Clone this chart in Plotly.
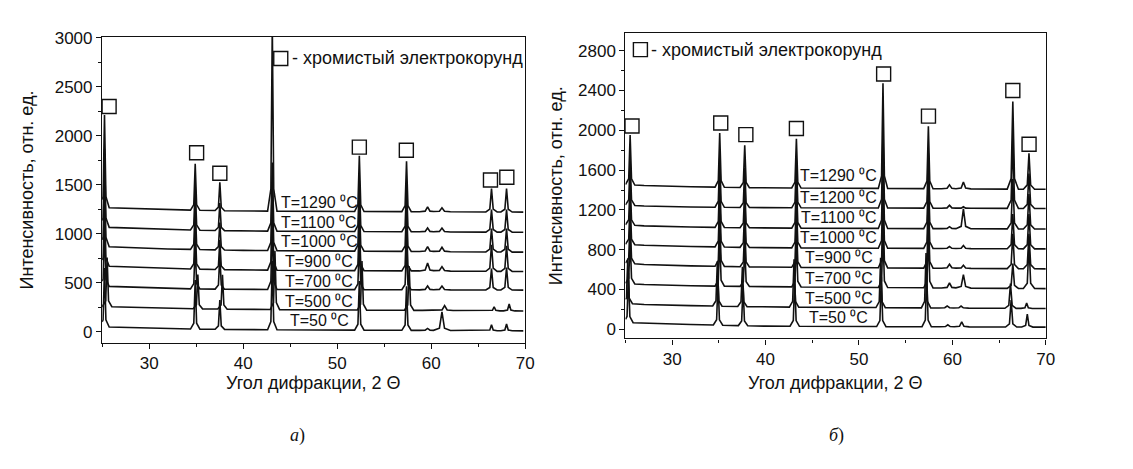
import numpy as np
import plotly.graph_objects as go

# ---------------- data: panel a ----------------
a_temps = ["50", "500", "700", "900", "1000", "1100", "1290"]
a_knots = [25.0, 27.0, 32.0, 40.0, 69.8]
a_baseline = [
    [50, 45, 30, 22, 9],
    [258, 252, 238, 228, 212],
    [465, 458, 440, 432, 425],
    [672, 664, 645, 630, 615],
    [870, 862, 845, 830, 812],
    [1068, 1060, 1042, 1028, 1015],
    [1268, 1262, 1245, 1232, 1221],
]
a_peaks = [25.25, 34.9, 37.52, 43.1, 52.36, 57.38, 59.62, 61.15, 66.42, 68.02]
a_peak_width = [1, 1, 1, 1, 1, 1, 1.7, 1.8, 1.2, 1.2]
a_shift = [0, 0.28, 0, 0, 0, 0, 0]
a_heights = [
    [600, 500, 300, 700, 500, 450, 20, 190, 60, 70],
    [500, 350, 350, 600, 500, 450, 0, 50, 40, 70],
    [600, 450, 350, 700, 500, 450, 40, 40, 220, 230],
    [700, 450, 300, 700, 520, 470, 80, 45, 270, 260],
    [800, 450, 280, 700, 520, 470, 50, 45, 240, 240],
    [800, 450, 280, 700, 520, 470, 40, 40, 230, 230],
    [944, 475, 290, 1900, 568, 515, 50, 40, 240, 240],
]
a_square_x = [25.74, 35.05, 37.52, 52.36, 57.36, 66.31, 68.05]
a_square_y = [2299, 1827, 1618, 1884, 1852, 1549, 1577]
a_label_x = 48.1
a_label_y = [113, 306, 509, 712, 924, 1112, 1321]
a_legend_sq = (44.0, 2789)
a_legend_text_x = 45.0

# ---------------- data: panel б ----------------
b_temps = ["50", "500", "700", "900", "1000", "1100", "1200", "1290"]
b_knots = [25.0, 27.0, 32.0, 40.0, 70.0]
b_baseline = [
    [70, 62, 48, 32, 22],
    [262, 250, 238, 225, 209],
    [462, 450, 438, 428, 409],
    [665, 652, 638, 625, 608],
    [855, 845, 832, 820, 808],
    [1050, 1040, 1028, 1018, 1008],
    [1250, 1240, 1230, 1222, 1214],
    [1455, 1445, 1432, 1422, 1407],
]
b_peaks = [25.5, 35.09, 37.77, 43.3, 52.57, 57.43, 59.69, 61.18, 66.47, 68.2]
b_peak_width = [1, 1, 1, 1, 1, 1, 1.7, 1.6, 1.2, 1.2]
b_shift = [-0.18, -0.25, 0, 0, 0, 0, 0, 0]
b_heights = [
    [500, 450, 400, 480, 500, 550, 20, 50, 270, 130],
    [450, 450, 400, 480, 500, 550, 20, 20, 250, 55],
    [450, 500, 400, 480, 550, 550, 50, 135, 250, 450],
    [450, 500, 400, 480, 600, 550, 40, 30, 350, 350],
    [450, 500, 400, 480, 650, 550, 20, 30, 350, 350],
    [450, 500, 400, 480, 700, 550, 20, 200, 500, 350],
    [450, 500, 400, 480, 740, 550, 30, 15, 700, 350],
    [500, 545, 425, 495, 1056, 628, 40, 70, 880, 360],
]
b_square_x = [25.7, 35.2, 37.89, 43.3, 52.64, 57.44, 66.47, 68.21]
b_square_y = [2043, 2074, 1957, 2018, 2566, 2142, 2400, 1860]
b_label_x = 47.85
b_label_y = [120, 314, 513, 722, 922, 1122, 1326, 1546]
b_legend_sq = (26.6, 2811)
b_legend_text_x = 27.55

legend_text = "- хромистый электрокорунд"
x_title = "Угол дифракции, 2 Θ"
y_title = "Интенсивность, отн. ед."

# ---------------- style / layout ----------------
W, H = 1133, 469
INK = "#111111"
FONT = "Liberation Sans, Arial, sans-serif"
PROFILE_DX = [-0.5, -0.15, 0.0, 0.15, 0.5]
PROFILE_FR = [0.0, 0.12, 1.0, 0.12, 0.0]

A_BOX = (94.9, 521.3, 21.2, 332.9)   # left, right, top, bottom (px)
B_BOX = (622.4, 1046.1, 17.1, 328.8)


def px_x(p):
    return p / W


def px_y(p):
    return 1 - p / H


def build_curve(knots, base, peaks, widths, heights, shift):
    pos = [p + shift for p in peaks]
    pts = set(knots)
    for p, w in zip(pos, widths):
        for o in PROFILE_DX:
            pts.add(round(p + o * w, 4))
    xs = np.array(sorted(v for v in pts if knots[0] <= v <= knots[-1]))
    ys = np.interp(xs, knots, base)
    for p, w, h in zip(pos, widths, heights):
        ys = ys + h * np.interp((xs - p) / w, PROFILE_DX, PROFILE_FR, left=0, right=0)
    return xs, ys


fig = go.Figure()

panels = [
    (a_temps, a_knots, a_baseline, a_peaks, a_peak_width, a_shift, a_heights, "x", "y"),
    (b_temps, b_knots, b_baseline, b_peaks, b_peak_width, b_shift, b_heights, "x2", "y2"),
]
for temps, knots, base, peaks, widths, shifts, heights, xa, ya in panels:
    for i, t in enumerate(temps):
        xs, ys = build_curve(knots, base[i], peaks, widths, heights[i], shifts[i])
        fig.add_trace(go.Scatter(x=xs, y=ys, mode="lines", xaxis=xa, yaxis=ya,
                                 line=dict(color=INK, width=1.6),
                                 showlegend=False, hoverinfo="skip", name=f"T={t}"))

sq_style = dict(symbol="square-open", size=14, color=INK, line=dict(width=1.4, color=INK))
fig.add_trace(go.Scatter(x=a_square_x + [a_legend_sq[0]], y=a_square_y + [a_legend_sq[1]],
                         mode="markers", marker=sq_style, xaxis="x", yaxis="y",
                         showlegend=False, hoverinfo="skip", cliponaxis=False))
fig.add_trace(go.Scatter(x=b_square_x + [b_legend_sq[0]], y=b_square_y + [b_legend_sq[1]],
                         mode="markers", marker=sq_style, xaxis="x2", yaxis="y2",
                         showlegend=False, hoverinfo="skip", cliponaxis=False))

annotations = []
for temps, lx, lys, xr, yr in [(a_temps, a_label_x, a_label_y, "x", "y"),
                               (b_temps, b_label_x, b_label_y, "x2", "y2")]:
    for t, ly in zip(temps, lys):
        annotations.append(dict(x=lx, y=ly, xref=xr, yref=yr, text=f"T={t} \u2070C",
                                showarrow=False, xanchor="center", yanchor="middle",
                                font=dict(family=FONT, size=16, color=INK)))

annotations.append(dict(x=a_legend_text_x, y=a_legend_sq[1], xref="x", yref="y", text=legend_text,
                        showarrow=False, xanchor="left", yanchor="middle",
                        font=dict(family=FONT, size=18, color=INK)))
annotations.append(dict(x=b_legend_text_x, y=b_legend_sq[1], xref="x2", yref="y2", text=legend_text,
                        showarrow=False, xanchor="left", yanchor="middle",
                        font=dict(family=FONT, size=18, color=INK)))

for box, yt_x in [(A_BOX, 19), (B_BOX, 552)]:
    l, r, t, b = box
    annotations.append(dict(x=px_x((l + r) / 2), y=px_y(374), xref="paper", yref="paper",
                            text=x_title, showarrow=False, xanchor="center", yanchor="middle",
                            font=dict(family=FONT, size=18, color=INK)))
    annotations.append(dict(x=px_x(yt_x), y=px_y((t + b) / 2), xref="paper", yref="paper",
                            text=y_title, textangle=-90, showarrow=False,
                            xanchor="center", yanchor="middle",
                            font=dict(family=FONT, size=18, color=INK)))

annotations.append(dict(x=px_x(282), y=px_y(440), xref="paper", yref="paper", text="<i>а</i>)",
                        showarrow=False, font=dict(family="Liberation Serif, Times New Roman, serif",
                                                   size=18, color=INK)))
annotations.append(dict(x=px_x(845), y=px_y(440), xref="paper", yref="paper", text="<i>б</i>)",
                        showarrow=False, font=dict(family="Liberation Serif, Times New Roman, serif",
                                                   size=18, color=INK)))


def axis(domain, rng, dtick, minor, anchor):
    return dict(domain=domain, range=rng, anchor=anchor, showline=True, mirror=True,
                linecolor=INK, linewidth=1.4, ticks="outside", ticklen=5, tickwidth=1.3,
                tickcolor=INK, dtick=dtick, tick0=0, tickformat="d",
                minor=dict(ticks="outside", ticklen=3, dtick=minor, tick0=0, tickcolor=INK, tickwidth=1.2),
                showgrid=False, zeroline=False,
                tickfont=dict(family=FONT, size=17, color=INK))


fig.update_layout(
    width=W, height=H, autosize=False,
    margin=dict(l=0, r=0, t=0, b=0),
    paper_bgcolor="white", plot_bgcolor="white",
    xaxis=axis([px_x(A_BOX[0]), px_x(A_BOX[1])], [25, 70], 10, 5, "y"),
    yaxis=axis([px_y(A_BOX[3]), px_y(A_BOX[2])], [-110, 3010], 500, 250, "x"),
    xaxis2=axis([px_x(B_BOX[0]), px_x(B_BOX[1])], [25, 70], 10, 5, "y2"),
    yaxis2=axis([px_y(B_BOX[3]), px_y(B_BOX[2])], [-92, 2980], 400, 200, "x2"),
    annotations=annotations,
)

fig.write_html("out.html")
